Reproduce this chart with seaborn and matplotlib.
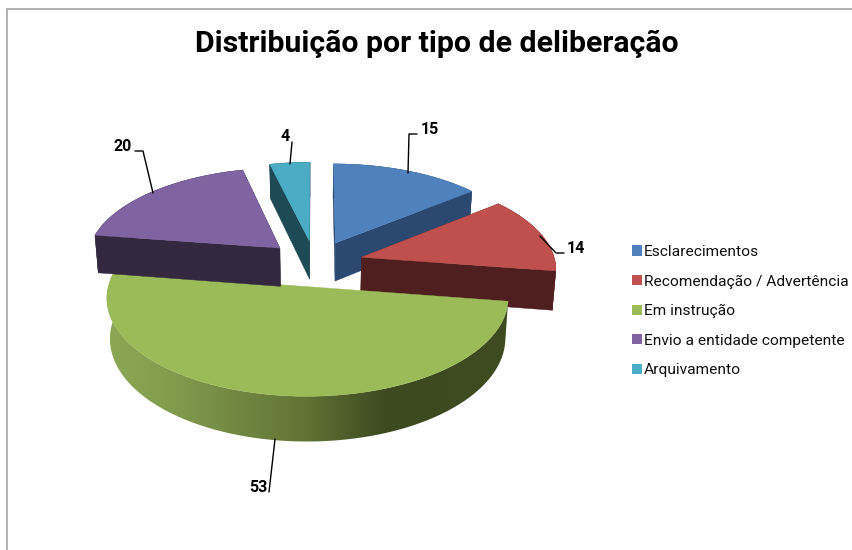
import numpy as np
import matplotlib
matplotlib.use("Agg")
import matplotlib.pyplot as plt
from matplotlib.patches import Patch, Polygon
from matplotlib.colors import to_rgb
import seaborn as sns

titulo = "Distribuição por tipo de deliberação"
categorias = ["Esclarecimentos", "Recomendação / Advertência", "Em instrução",
              "Envio a entidade competente", "Arquivamento"]
valores = [15, 14, 53, 20, 4]
cores = ["#4f81bd", "#c0504d", "#9bbb59", "#8064a2", "#4bacc6"]
cores_lado = ["#2a4870", "#4f1f1f", "#9bbb59", "#33283f", "#1d4a54"]

# estilo / layout
CX, CY = 315, 263.3      # centro da tarte em pixeis
RX, RY = 194, 92         # raios
PERSP = 0.11             # perspectiva
EXPLODE = 0.25
ALTURA = 39              # espessura
ENCOLHE = 0.985

# rotulos: posicao do texto e linha de chamada
rotulos_xy = [(430, 129.5), (576, 248.5), (258, 488), (123, 146.5), (285, 136.5)]
chamadas = [[(408, 173), (409, 134), (417, 134)],
            [(540, 236), (556, 253), (564, 253)],
            [(275, 439), (269, 492)],
            [(153, 193), (143, 151), (135, 151)],
            [(290, 164), (292, 142)]]

# gradiente do lado verde (x em pixeis -> cor)
grad_x = [105, 170, 300, 385, 510]
grad_cor = ["#8ca854", "#829c4e", "#637536", "#3d4a20", "#3f4b21"]


def projeta(x, y):
    w = 1 + PERSP * y
    return CX + RX * x / w, CY - RY * y / w, w


def base(sx, sy, w):
    return CX + (sx - CX) * ENCOLHE, sy + ALTURA / w


sns.set_theme(style="white")
plt.rcParams['font.family'] = ['Roboto', 'DejaVu Sans']

fig = plt.figure(figsize=(8.53, 5.5), dpi=100)
ax = fig.add_axes([0, 0, 1, 1])
ax.set_xlim(0, 853)
ax.set_ylim(550, 0)
ax.axis("off")

# moldura
ax.plot([7, 7, 853], [550, 9, 9], color="#ababab", lw=1.3)

total = sum(valores)
inicios = np.cumsum([0] + valores[:-1]) / total * 2 * np.pi
fins = np.cumsum(valores) / total * 2 * np.pi

# desenhar de tras para a frente
for i in [4, 3, 0, 1, 2]:
    t = np.linspace(inicios[i], fins[i], 120)
    meio = (inicios[i] + fins[i]) / 2
    ox, oy = EXPLODE * np.sin(meio), EXPLODE * np.cos(meio)

    sx, sy, w = projeta(ox + np.sin(t), oy + np.cos(t))
    ax_, ay_, aw = projeta(ox, oy)
    bx, by = base(sx, sy, w)
    abx, aby = base(ax_, ay_, aw)

    # face exterior
    if i == 2:
        xs = np.arange(grad_x[0], grad_x[-1] + 1)
        rgb = np.array([to_rgb(c) for c in grad_cor])
        img = np.stack([np.interp(xs, grad_x, rgb[:, n]) for n in range(3)], axis=1)
        im = ax.imshow(img[None, :, :], extent=(grad_x[0], grad_x[-1], 460, 260),
                       aspect="auto", zorder=2 + i, interpolation="bilinear")
        pol = Polygon(np.c_[np.r_[sx, bx[::-1]], np.r_[sy, by[::-1]]],
                      transform=ax.transData)
        im.set_clip_path(pol)
        ax.set_xlim(0, 853)
        ax.set_ylim(550, 0)
    else:
        # faces radiais
        for k in [0, -1]:
            ax.fill([ax_, sx[k], bx[k], abx], [ay_, sy[k], by[k], aby],
                    color=cores_lado[i], lw=0.3, zorder=2 + i)
        ax.fill(np.r_[sx, bx[::-1]], np.r_[sy, by[::-1]],
                color=cores_lado[i], lw=0.3, zorder=2 + i)

    # topo
    ax.fill(np.r_[ax_, sx], np.r_[ay_, sy], color=cores[i], lw=0.3, zorder=2 + i)

for v, xy, linha in zip(valores, rotulos_xy, chamadas):
    lx, ly = zip(*linha)
    ax.plot(lx, ly, color="black", lw=1, zorder=20)
    ax.text(xy[0], xy[1], str(v), ha="center", va="center", fontsize=11.5,
            fontweight="bold", color="black", zorder=21)

ax.text(437, 43.5, titulo, ha="center", va="center", fontsize=21.8,
        fontweight="bold", color="black")

handles = [Patch(facecolor=c, edgecolor="none") for c in cores]
ax.legend(handles, categorias, loc="upper left", bbox_to_anchor=(0.741, 0.5547),
          frameon=False, fontsize=11.15, handlelength=0.65, handleheight=0.65,
          handletextpad=0.12, labelspacing=1.0, borderpad=0, borderaxespad=0,
          labelcolor="#111111")

fig.savefig("out.png", dpi=100)
